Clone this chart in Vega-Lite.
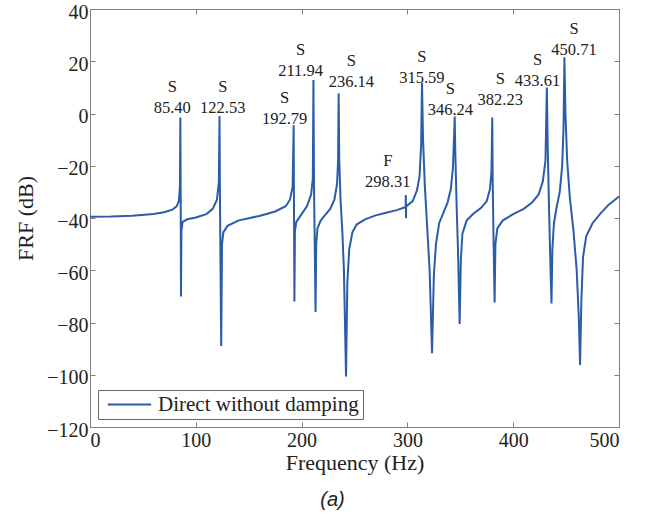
{
  "$schema": "https://vega.github.io/schema/vega-lite/v6.json",
  "autosize": {"type": "none"},
  "width": 529,
  "height": 418,
  "padding": {"left": 90, "top": 9, "right": 33, "bottom": 88},
  "background": "white",
  "config": {
    "view": {"stroke": "#808080", "strokeWidth": 1},
    "style": {"guide-label": {"font": "Liberation Serif", "fontSize": 20, "fill": "#222"}, "guide-title": {"font": "Liberation Serif", "fontSize": 22, "fill": "#222", "fontWeight": "normal"}},
    "axis": {
      "grid": false,
      "domainColor": "#808080",
      "tickColor": "#808080",
      "tickSize": -5,
      "labelFont": "Liberation Serif",
      "labelFontSize": 20,
      "labelColor": "#222",
      "titleFont": "Liberation Serif",
      "titleFontSize": 22,
      "titleFontWeight": "normal",
      "titleColor": "#222"
    },
    "legend": {
      "labelFont": "Liberation Serif",
      "labelFontSize": 21,
      "labelColor": "#222",
      "labelLimit": 0
    }
  },
  "title": {
    "text": "(a)",
    "orient": "bottom",
    "font": "Liberation Sans",
    "fontStyle": "italic",
    "fontWeight": "normal",
    "fontSize": 20,
    "color": "#222",
    "offset": 17,
    "dx": -22
  },
  "datasets": {
    "frf": [
      {"freq": 0, "db": -39.5}, {"freq": 20, "db": -39.4}, {"freq": 40, "db": -39.1}, {"freq": 60, "db": -38.5},
      {"freq": 70, "db": -37.8}, {"freq": 78, "db": -36.8}, {"freq": 82, "db": -35.5}, {"freq": 84, "db": -33.5},
      {"freq": 85, "db": -28}, {"freq": 85.4, "db": -1.5}, {"freq": 85.7, "db": -30}, {"freq": 86.0, "db": -70},
      {"freq": 86.4, "db": -45}, {"freq": 87.5, "db": -41.5}, {"freq": 92, "db": -40.5}, {"freq": 100, "db": -39.8},
      {"freq": 110, "db": -38.5}, {"freq": 116, "db": -36.5}, {"freq": 120, "db": -33}, {"freq": 121.8, "db": -26},
      {"freq": 122.4, "db": -1}, {"freq": 122.8, "db": -30}, {"freq": 124.0, "db": -89}, {"freq": 124.8, "db": -50},
      {"freq": 126, "db": -45.5}, {"freq": 130, "db": -43}, {"freq": 140, "db": -41}, {"freq": 160, "db": -39.2},
      {"freq": 175, "db": -37.5}, {"freq": 185, "db": -35.5}, {"freq": 189, "db": -33}, {"freq": 191.5, "db": -28},
      {"freq": 192.5, "db": -4.5}, {"freq": 192.8, "db": -35}, {"freq": 193.2, "db": -72}, {"freq": 193.7, "db": -45},
      {"freq": 195, "db": -41.5}, {"freq": 200, "db": -38.5}, {"freq": 205, "db": -35.5}, {"freq": 209, "db": -31},
      {"freq": 210.6, "db": -25}, {"freq": 211.2, "db": 12.8}, {"freq": 211.8, "db": -30}, {"freq": 213.2, "db": -76},
      {"freq": 213.8, "db": -50}, {"freq": 215, "db": -44}, {"freq": 218, "db": -41}, {"freq": 222, "db": -39},
      {"freq": 227, "db": -36.5}, {"freq": 231, "db": -33}, {"freq": 233.5, "db": -27}, {"freq": 234.5, "db": -18},
      {"freq": 235.0, "db": 7.7}, {"freq": 235.6, "db": -18}, {"freq": 236.8, "db": -33}, {"freq": 238.5, "db": -45},
      {"freq": 240, "db": -60}, {"freq": 242.0, "db": -100.7}, {"freq": 243.2, "db": -65}, {"freq": 245, "db": -52},
      {"freq": 248, "db": -45.5}, {"freq": 252, "db": -42.5}, {"freq": 260, "db": -40.5}, {"freq": 270, "db": -39},
      {"freq": 280, "db": -38}, {"freq": 290, "db": -37}, {"freq": 298.4, "db": -35.8}, {"freq": 298.5, "db": -31.2},
      {"freq": 298.7, "db": -40.1}, {"freq": 298.8, "db": -35.6}, {"freq": 305, "db": -33.5}, {"freq": 309, "db": -29.5},
      {"freq": 311.5, "db": -24}, {"freq": 313, "db": -12}, {"freq": 313.8, "db": 11.8}, {"freq": 314.8, "db": -10},
      {"freq": 316.5, "db": -28}, {"freq": 318.5, "db": -42}, {"freq": 321, "db": -60}, {"freq": 323.3, "db": -91.8},
      {"freq": 325, "db": -62}, {"freq": 327, "db": -50}, {"freq": 330, "db": -42}, {"freq": 334, "db": -38},
      {"freq": 338, "db": -34}, {"freq": 341, "db": -29}, {"freq": 343, "db": -21}, {"freq": 344.2, "db": -8},
      {"freq": 344.7, "db": -1.2}, {"freq": 345.3, "db": -15}, {"freq": 346.5, "db": -35}, {"freq": 347.8, "db": -52},
      {"freq": 349.4, "db": -80.6}, {"freq": 350.5, "db": -56}, {"freq": 352, "db": -46}, {"freq": 356, "db": -41},
      {"freq": 362, "db": -38.5}, {"freq": 370, "db": -36}, {"freq": 375, "db": -33.5}, {"freq": 378, "db": -29},
      {"freq": 379.5, "db": -22}, {"freq": 380.2, "db": -1.5}, {"freq": 380.6, "db": -25}, {"freq": 381.3, "db": -45},
      {"freq": 382.4, "db": -72.3}, {"freq": 383.2, "db": -50}, {"freq": 385, "db": -44}, {"freq": 390, "db": -41},
      {"freq": 400, "db": -38.5}, {"freq": 410, "db": -36.5}, {"freq": 418, "db": -34}, {"freq": 424, "db": -31},
      {"freq": 428, "db": -26}, {"freq": 430.5, "db": -18}, {"freq": 431.8, "db": 9.9}, {"freq": 432.6, "db": -12},
      {"freq": 433.8, "db": -35}, {"freq": 435, "db": -55}, {"freq": 436.2, "db": -72.7}, {"freq": 437, "db": -52},
      {"freq": 438.5, "db": -42}, {"freq": 441, "db": -36}, {"freq": 444, "db": -30}, {"freq": 446.3, "db": -20},
      {"freq": 447.6, "db": -5}, {"freq": 448.4, "db": 21.5}, {"freq": 449.4, "db": 0}, {"freq": 451, "db": -18},
      {"freq": 453.5, "db": -32}, {"freq": 457, "db": -45}, {"freq": 460, "db": -60}, {"freq": 462, "db": -78},
      {"freq": 463.2, "db": -96.3}, {"freq": 464.4, "db": -72}, {"freq": 466, "db": -55}, {"freq": 469, "db": -47},
      {"freq": 475, "db": -42}, {"freq": 482, "db": -38.5}, {"freq": 490, "db": -35}, {"freq": 500, "db": -31.8}
    ],
    "labels": [
      {"kind": "S", "num": "85.40", "lx": 77.8, "ly": 0.2},
      {"kind": "S", "num": "122.53", "lx": 125.5, "ly": 0.2},
      {"kind": "S", "num": "192.79", "lx": 184, "ly": -4.0},
      {"kind": "S", "num": "211.94", "lx": 199, "ly": 14.4},
      {"kind": "S", "num": "236.14", "lx": 247, "ly": 10.1},
      {"kind": "F", "num": "298.31", "lx": 281.4, "ly": -28.1},
      {"kind": "S", "num": "315.59", "lx": 313.7, "ly": 11.7},
      {"kind": "S", "num": "346.24", "lx": 340.6, "ly": -0.6},
      {"kind": "S", "num": "382.23", "lx": 387.8, "ly": 3.3},
      {"kind": "S", "num": "433.61", "lx": 423, "ly": 10.5},
      {"kind": "S", "num": "450.71", "lx": 457.5, "ly": 22.4}
    ]
  },
  "resolve": {"axis": {"x": "independent", "y": "independent"}},
  "layer": [
    {
      "data": {"name": "frf"},
      "mark": {"type": "line", "strokeWidth": 2, "clip": true},
      "encoding": {
        "x": {"field": "freq", "type": "quantitative", "scale": {"domain": [0, 500], "nice": false},
              "axis": {"values": [0, 100, 200, 300, 400, 500], "title": "Frequency (Hz)", "labelPadding": 8, "titlePadding": 2,
                       "labelFont": "Liberation Serif", "labelFontSize": 20}},
        "y": {"field": "db", "type": "quantitative", "scale": {"domain": [-120, 40], "nice": false},
              "axis": {"values": [-120, -100, -80, -60, -40, -20, 0, 20, 40], "title": "FRF (dB)", "labelPadding": 7, "titlePadding": 9,
                       "labelOffset": 3, "labelFont": "Liberation Serif", "labelFontSize": 20}},
        "color": {"datum": "Direct without damping", "type": "nominal",
                  "scale": {"range": ["#2b5ca8"]},
                  "legend": {"title": null, "orient": "bottom-left", "offset": 8, "symbolType": "M-2.5,0H2.5",
                             "symbolSize": 300, "symbolStrokeWidth": 2, "symbolOffset": 17, "labelOffset": 18,
                             "labelFont": "Liberation Serif", "labelFontSize": 21,
                             "strokeColor": "#666", "fillColor": "white", "padding": 4}}
      }
    },
    {
      "data": {"name": "labels"},
      "mark": {"type": "text", "font": "Liberation Serif", "fontSize": 16.5, "color": "#222", "align": "center", "baseline": "alphabetic", "dy": -21},
      "encoding": {
        "x": {"field": "lx", "type": "quantitative", "axis": {"orient": "top", "labels": false, "title": null, "values": [0, 100, 200, 300, 400, 500]}},
        "y": {"field": "ly", "type": "quantitative", "axis": {"orient": "right", "labels": false, "title": null, "values": [-120, -100, -80, -60, -40, -20, 0, 20, 40]}},
        "text": {"field": "kind"}
      }
    },
    {
      "data": {"name": "labels"},
      "mark": {"type": "text", "font": "Liberation Serif", "fontSize": 16.5, "color": "#222", "align": "center", "baseline": "alphabetic"},
      "encoding": {
        "x": {"field": "lx", "type": "quantitative", "axis": null},
        "y": {"field": "ly", "type": "quantitative", "axis": null},
        "text": {"field": "num"}
      }
    }
  ]
}
